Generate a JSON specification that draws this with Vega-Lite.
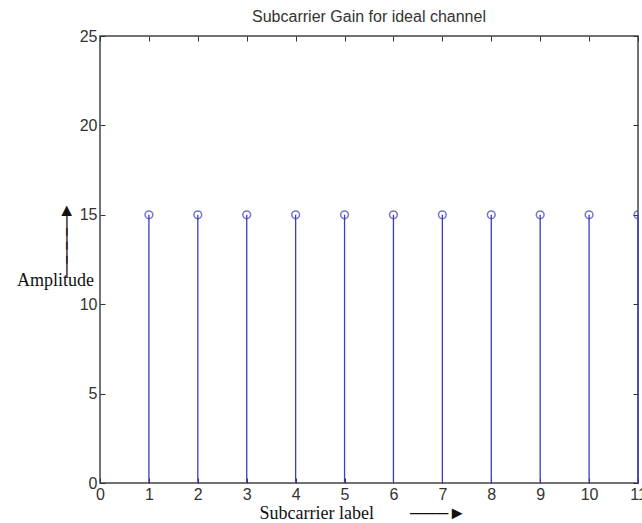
{
  "$schema": "https://vega.github.io/schema/vega-lite/v6.json",
  "width": 538,
  "height": 447,
  "autosize": "none",
  "padding": {"left": 100, "top": 36, "right": 4, "bottom": 40},
  "background": "white",
  "title": {"text": "Subcarrier Gain for ideal channel", "font": "Liberation Sans", "fontSize": 16, "fontWeight": "normal", "color": "#333", "anchor": "middle", "offset": 3},
  "config": {
    "view": {"stroke": "#444", "strokeWidth": 1.5},
    "axis": {"grid": false, "domain": false, "tickColor": "#333", "tickSize": -5, "labelColor": "#333", "labelFont": "Liberation Sans", "labelFontSize": 16, "titleFontWeight": "normal", "titleColor": "#111"}
  },
  "data": {"values": [
    {"x": 1, "y": 15}, {"x": 2, "y": 15}, {"x": 3, "y": 15}, {"x": 4, "y": 15},
    {"x": 5, "y": 15}, {"x": 6, "y": 15}, {"x": 7, "y": 15}, {"x": 8, "y": 15},
    {"x": 9, "y": 15}, {"x": 10, "y": 15}, {"x": 11, "y": 15}
  ]},
  "resolve": {"axis": {"x": "independent", "y": "independent"}},
  "layer": [
    {
      "mark": {"type": "rule", "color": "#3b3bc4", "strokeWidth": 1.3},
      "encoding": {
        "x": {"field": "x", "type": "quantitative", "scale": {"domain": [0, 11], "nice": false},
          "axis": {"orient": "bottom", "values": [0,1,2,3,4,5,6,7,8,9,10,11], "format": "d", "labelPadding": 8, "labelFlush": false,
            "title": "Subcarrier label\u00a0\u00a0\u00a0\u00a0\u00a0\u00a0\u00a0\u00a0───►", "titleFont": "Liberation Serif", "titleFontSize": 18, "titleAlign": "left", "titleX": 159, "titleY": 35, "titleBaseline": "alphabetic"}},
        "y": {"field": "y", "type": "quantitative", "scale": {"domain": [0, 25], "nice": false},
          "axis": {"orient": "left", "values": [0,5,10,15,20,25], "labelPadding": 8, "labelFlush": false,
            "title": ["\u200b\u00a0\u00a0\u00a0\u00a0\u00a0▲", "\u200b\u00a0\u00a0\u00a0\u00a0\u00a0│", "\u200b\u00a0\u00a0\u00a0\u00a0\u00a0│", "\u200b\u00a0\u00a0\u00a0\u00a0\u00a0│", "\u200b\u00a0\u00a0\u00a0\u00a0\u00a0│", "Amplitude"], "titleFont": "Liberation Serif", "titleFontSize": 18, "titleLineHeight": 14, "titleAngle": 0, "titleAlign": "center", "titleX": -45, "titleY": 183, "titleBaseline": "bottom"}},
        "y2": {"datum": 0}
      }
    },
    {
      "mark": {"type": "point", "shape": "circle", "filled": false, "color": "#3b3bc4", "size": 60, "strokeWidth": 1.5, "clip": true},
      "encoding": {
        "x": {"field": "x", "type": "quantitative", "scale": {"domain": [0, 11], "nice": false},
          "axis": {"orient": "top", "values": [0,1,2,3,4,5,6,7,8,9,10,11], "labels": false, "title": null}},
        "y": {"field": "y", "type": "quantitative", "scale": {"domain": [0, 25], "nice": false},
          "axis": {"orient": "right", "values": [0,5,10,15,20,25], "labels": false, "title": null}}
      }
    }
  ]
}
